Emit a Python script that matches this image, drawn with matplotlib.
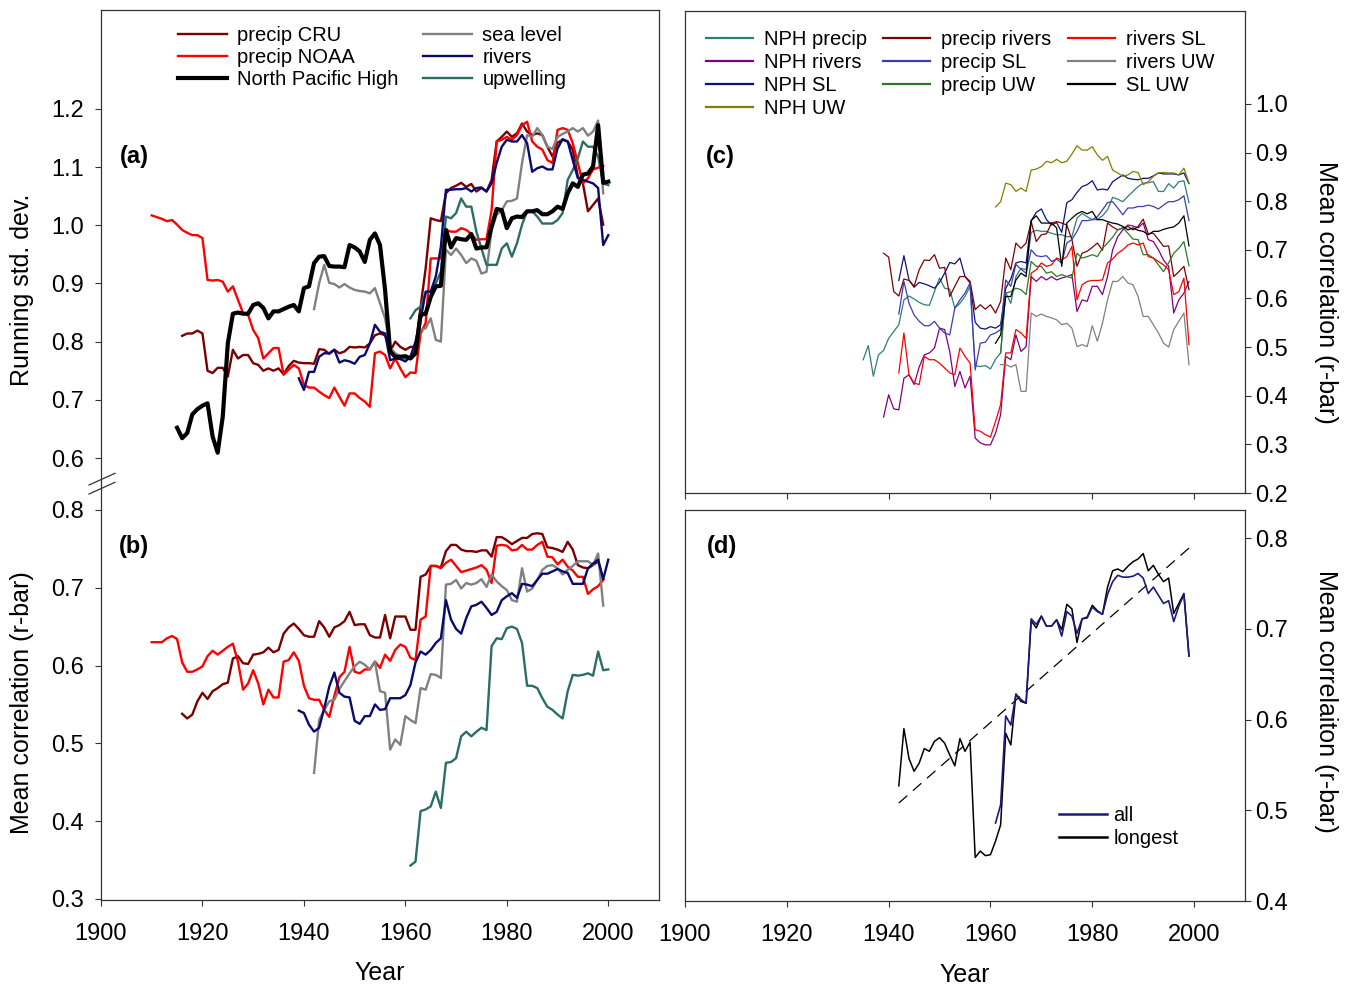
import numpy as np
import matplotlib
matplotlib.use("Agg")
import matplotlib.pyplot as plt
from matplotlib.lines import Line2D

plt.rcParams['font.family'] = ['Liberation Sans', 'DejaVu Sans']

# ---------------- data ----------------
# panel (a): running standard deviation
a_npH_start = 1915
a_nph = [0.652, 0.634, 0.643, 0.675, 0.684, 0.690, 0.694, 0.637, 0.609, 0.671,
         0.797, 0.848, 0.850, 0.848, 0.848, 0.863, 0.866, 0.858, 0.840, 0.852,
         0.852, 0.856, 0.860, 0.863, 0.852, 0.892, 0.895, 0.935, 0.946, 0.947,
         0.930, 0.929, 0.929, 0.928, 0.966, 0.962, 0.955, 0.937, 0.975, 0.986,
         0.966, 0.889, 0.783, 0.774, 0.774, 0.775, 0.771, 0.780, 0.846, 0.848,
         0.877, 0.895, 0.896, 0.992, 0.962, 0.978, 0.976, 0.975, 0.985, 0.960,
         0.962, 0.962, 0.998, 1.028, 1.026, 0.995, 1.012, 1.015, 1.014, 1.024,
         1.024, 1.026, 1.019, 1.019, 1.024, 1.032, 1.028, 1.055, 1.072, 1.066,
         1.087, 1.089, 1.101, 1.172, 1.073, 1.075]
a_noaa_start = 1910
a_noaa = [1.017, 1.014, 1.011, 1.007, 1.009, 1.001, 0.992, 0.987, 0.983, 0.983,
          0.978, 0.906, 0.905, 0.906, 0.903, 0.886, 0.895, 0.872, 0.849, 0.846,
          0.820, 0.806, 0.771, 0.780, 0.789, 0.789, 0.743, 0.752, 0.760, 0.754,
          0.726, 0.721, 0.721, 0.714, 0.708, 0.703, 0.721, 0.705, 0.690, 0.711,
          0.711, 0.703, 0.697, 0.688, 0.780, 0.783, 0.777, 0.754, 0.771, 0.754,
          0.739, 0.747, 0.746, 0.814, 0.832, 0.943, 0.943, 0.943, 0.992, 0.989,
          0.989, 0.995, 0.992, 0.985, 0.975, 0.976, 0.976, 1.026, 1.144, 1.147,
          1.152, 1.147, 1.155, 1.172, 1.178, 1.144, 1.135, 1.130, 1.112, 1.107,
          1.164, 1.167, 1.164, 1.141, 1.107, 1.072, 1.081, 1.096, 1.099, 1.102]
a_cru_start = 1916
a_cru = [0.810, 0.814, 0.814, 0.819, 0.814, 0.750, 0.746, 0.755, 0.755, 0.740,
         0.786, 0.771, 0.777, 0.777, 0.763, 0.760, 0.750, 0.754, 0.750, 0.754,
         0.744, 0.758, 0.767, 0.764, 0.763, 0.763, 0.762, 0.787, 0.786, 0.779,
         0.786, 0.780, 0.783, 0.791, 0.790, 0.791, 0.790, 0.797, 0.811, 0.814,
         0.811, 0.783, 0.800, 0.791, 0.786, 0.791, 0.791, 0.860, 0.926, 1.012,
         1.009, 1.007, 1.055, 1.064, 1.068, 1.073, 1.066, 1.071, 1.058, 1.064,
         1.058, 1.078, 1.144, 1.152, 1.161, 1.152, 1.158, 1.175, 1.161, 1.155,
         1.158, 1.155, 1.135, 1.118, 1.142, 1.147, 1.144, 1.130, 1.084, 1.072,
         1.024, 1.035, 1.046, 1.001]
a_sl_start = 1942
a_sl = [0.856, 0.900, 0.932, 0.901, 0.899, 0.893, 0.899, 0.893, 0.889, 0.887,
        0.886, 0.883, 0.892, 0.866, 0.840, 0.790, 0.780, 0.775, 0.770, 0.775,
        0.790, 0.820, 0.823, 0.840, 0.803, 0.800, 0.958, 0.949, 0.960, 0.949,
        0.935, 0.943, 0.939, 0.917, 0.920, 0.992, 1.018, 1.026, 1.041, 1.042,
        1.046, 1.107, 1.155, 1.152, 1.167, 1.155, 1.135, 1.131, 1.152, 1.157,
        1.161, 1.167, 1.161, 1.167, 1.154, 1.161, 1.180, 1.055]
a_riv_start = 1939
a_riv = [0.737, 0.717, 0.748, 0.748, 0.774, 0.780, 0.780, 0.786, 0.764, 0.768,
         0.766, 0.762, 0.774, 0.777, 0.797, 0.829, 0.817, 0.814, 0.768, 0.771,
         0.770, 0.766, 0.774, 0.800, 0.837, 0.886, 0.886, 0.912, 0.963, 1.061,
         1.061, 1.062, 1.062, 1.064, 1.058, 1.064, 1.065, 1.058, 1.072, 1.107,
         1.135, 1.147, 1.144, 1.144, 1.155, 1.141, 1.092, 1.098, 1.101, 1.096,
         1.096, 1.132, 1.148, 1.144, 1.112, 1.081, 1.078, 1.075, 1.072, 1.064,
         0.966, 0.983]
a_upw_start = 1961
a_upw = [0.840, 0.854, 0.860, 0.883, 0.886, 0.900, 0.920, 1.015, 1.012, 1.021,
         1.046, 1.032, 1.032, 0.989, 0.960, 0.932, 0.932, 0.932, 0.960, 0.969,
         0.946, 0.969, 1.001, 1.024, 1.024, 1.015, 1.003, 1.003, 1.003, 1.009,
         1.021, 1.078, 1.095, 1.115, 1.144, 1.135, 1.135, 1.118, 1.072, 1.069]

# panel (b): mean correlation
b_cru_start = 1916
b_cru = [0.538, 0.532, 0.537, 0.554, 0.565, 0.557, 0.567, 0.571, 0.576, 0.578,
         0.609, 0.612, 0.603, 0.602, 0.614, 0.615, 0.617, 0.623, 0.617, 0.620,
         0.641, 0.649, 0.654, 0.647, 0.639, 0.637, 0.637, 0.657, 0.649, 0.637,
         0.649, 0.652, 0.657, 0.669, 0.652, 0.653, 0.653, 0.639, 0.636, 0.636,
         0.665, 0.635, 0.663, 0.663, 0.663, 0.646, 0.646, 0.714, 0.717, 0.728,
         0.728, 0.726, 0.747, 0.755, 0.755, 0.749, 0.747, 0.747, 0.746, 0.748,
         0.748, 0.740, 0.765, 0.765, 0.761, 0.756, 0.760, 0.764, 0.764, 0.769,
         0.770, 0.769, 0.752, 0.751, 0.749, 0.746, 0.759, 0.749, 0.729, 0.726,
         0.725, 0.729, 0.734, 0.711]
b_noaa_start = 1910
b_noaa = [0.630, 0.630, 0.630, 0.635, 0.638, 0.634, 0.604, 0.592, 0.592, 0.595,
          0.599, 0.612, 0.619, 0.614, 0.619, 0.624, 0.628, 0.605, 0.569, 0.577,
          0.594, 0.577, 0.550, 0.569, 0.559, 0.559, 0.605, 0.607, 0.617, 0.606,
          0.574, 0.558, 0.556, 0.556, 0.543, 0.534, 0.561, 0.585, 0.592, 0.624,
          0.592, 0.590, 0.595, 0.595, 0.605, 0.597, 0.614, 0.606, 0.620, 0.627,
          0.624, 0.610, 0.607, 0.659, 0.663, 0.728, 0.728, 0.725, 0.732, 0.736,
          0.728, 0.720, 0.722, 0.724, 0.726, 0.729, 0.723, 0.706, 0.754, 0.755,
          0.754, 0.748, 0.749, 0.755, 0.749, 0.749, 0.755, 0.759, 0.740, 0.739,
          0.730, 0.736, 0.727, 0.722, 0.714, 0.714, 0.692, 0.698, 0.702, 0.710]
b_riv_start = 1939
b_riv = [0.542, 0.539, 0.524, 0.515, 0.520, 0.545, 0.573, 0.591, 0.565, 0.560,
         0.559, 0.529, 0.525, 0.535, 0.535, 0.550, 0.543, 0.544, 0.558, 0.558,
         0.558, 0.562, 0.575, 0.604, 0.618, 0.614, 0.620, 0.629, 0.635, 0.684,
         0.659, 0.647, 0.641, 0.661, 0.676, 0.678, 0.682, 0.674, 0.665, 0.669,
         0.684, 0.689, 0.693, 0.687, 0.705, 0.704, 0.702, 0.710, 0.718, 0.718,
         0.721, 0.724, 0.721, 0.719, 0.705, 0.705, 0.705, 0.725, 0.731, 0.736,
         0.711, 0.736]
b_sl_start = 1942
b_sl = [0.462, 0.530, 0.543, 0.554, 0.556, 0.570, 0.580, 0.590, 0.599, 0.605,
        0.601, 0.595, 0.605, 0.567, 0.565, 0.492, 0.505, 0.498, 0.535, 0.530,
        0.526, 0.571, 0.569, 0.589, 0.588, 0.584, 0.704, 0.705, 0.710, 0.699,
        0.706, 0.704, 0.706, 0.711, 0.701, 0.717, 0.708, 0.702, 0.697, 0.684,
        0.682, 0.725, 0.695, 0.699, 0.710, 0.723, 0.728, 0.729, 0.725, 0.717,
        0.723, 0.728, 0.734, 0.734, 0.734, 0.729, 0.744, 0.677]
b_upw_start = 1961
b_upw = [0.343, 0.348, 0.413, 0.415, 0.419, 0.438, 0.417, 0.475, 0.476, 0.481,
         0.509, 0.515, 0.509, 0.515, 0.520, 0.517, 0.625, 0.635, 0.634, 0.648,
         0.650, 0.647, 0.629, 0.574, 0.574, 0.571, 0.558, 0.547, 0.543, 0.537,
         0.532, 0.567, 0.588, 0.587, 0.588, 0.590, 0.587, 0.618, 0.594, 0.595]

# panel (c): pairwise mean correlation
c_nph_precip_start = 1935
c_nph_precip = [0.474, 0.503, 0.440, 0.484, 0.493, 0.518, 0.532, 0.546, 0.597, 0.605,
                0.599, 0.592, 0.587, 0.586, 0.614, 0.642, 0.621, 0.619, 0.580, 0.590,
                0.604, 0.625, 0.462, 0.460, 0.462, 0.455, 0.475, 0.488, 0.612, 0.590,
                0.645, 0.662, 0.659, 0.736, 0.740, 0.738, 0.738, 0.734, 0.731, 0.731,
                0.727, 0.727, 0.765, 0.775, 0.768, 0.762, 0.762, 0.770, 0.782, 0.808,
                0.804, 0.799, 0.810, 0.820, 0.830, 0.837, 0.838, 0.840, 0.820, 0.820,
                0.836, 0.827, 0.840, 0.842, 0.797]
c_nph_rivers_start = 1939
c_nph_rivers = [0.356, 0.402, 0.373, 0.371, 0.436, 0.443, 0.423, 0.459, 0.484, 0.488,
                0.498, 0.539, 0.536, 0.491, 0.419, 0.450, 0.416, 0.440, 0.313, 0.303,
                0.299, 0.299, 0.323, 0.361, 0.481, 0.474, 0.525, 0.491, 0.501, 0.645,
                0.635, 0.645, 0.638, 0.645, 0.638, 0.642, 0.645, 0.649, 0.573, 0.597,
                0.594, 0.625, 0.625, 0.608, 0.645, 0.700, 0.727, 0.741, 0.751, 0.749,
                0.745, 0.755, 0.721, 0.717, 0.700, 0.679, 0.666, 0.570, 0.597, 0.611,
                0.635]
c_nph_sl_start = 1942
c_nph_sl = [0.637, 0.688, 0.638, 0.623, 0.633, 0.630, 0.626, 0.621, 0.633, 0.652,
            0.674, 0.671, 0.683, 0.645, 0.632, 0.551, 0.539, 0.537, 0.542, 0.539,
            0.546, 0.621, 0.640, 0.673, 0.676, 0.673, 0.760, 0.777, 0.784, 0.762,
            0.751, 0.756, 0.736, 0.797, 0.803, 0.818, 0.830, 0.834, 0.842, 0.823,
            0.825, 0.823, 0.840, 0.847, 0.854, 0.847, 0.845, 0.844, 0.847, 0.847,
            0.852, 0.858, 0.856, 0.856, 0.856, 0.854, 0.858, 0.836]
c_nph_uw_start = 1961
c_nph_uw = [0.788, 0.799, 0.837, 0.834, 0.820, 0.827, 0.820, 0.864, 0.866, 0.871,
            0.882, 0.879, 0.886, 0.879, 0.882, 0.897, 0.914, 0.905, 0.905, 0.912,
            0.895, 0.884, 0.892, 0.864, 0.858, 0.851, 0.854, 0.861, 0.859, 0.834,
            0.840, 0.851, 0.858, 0.859, 0.858, 0.858, 0.854, 0.868, 0.837]
c_precip_rivers_start = 1939
c_precip_rivers = [0.693, 0.685, 0.614, 0.605, 0.640, 0.637, 0.625, 0.659, 0.679, 0.678,
                   0.690, 0.662, 0.664, 0.604, 0.625, 0.645, 0.645, 0.635, 0.577, 0.587,
                   0.578, 0.587, 0.570, 0.594, 0.683, 0.659, 0.714, 0.703, 0.714, 0.758,
                   0.717, 0.731, 0.733, 0.755, 0.758, 0.755, 0.751, 0.721, 0.666, 0.693,
                   0.697, 0.705, 0.714, 0.699, 0.755, 0.747, 0.741, 0.745, 0.748, 0.741,
                   0.748, 0.763, 0.733, 0.734, 0.721, 0.707, 0.708, 0.645, 0.655, 0.666,
                   0.618]
c_precip_sl_start = 1942
c_precip_sl = [0.568, 0.635, 0.590, 0.566, 0.553, 0.544, 0.544, 0.553, 0.539, 0.529,
               0.525, 0.580, 0.597, 0.611, 0.632, 0.453, 0.508, 0.510, 0.525, 0.529,
               0.536, 0.638, 0.625, 0.670, 0.660, 0.652, 0.700, 0.688, 0.686, 0.688,
               0.676, 0.681, 0.673, 0.714, 0.721, 0.738, 0.760, 0.760, 0.762, 0.768,
               0.782, 0.797, 0.799, 0.786, 0.772, 0.786, 0.786, 0.789, 0.789, 0.792,
               0.789, 0.784, 0.792, 0.799, 0.799, 0.803, 0.811, 0.760]
c_precip_uw_start = 1962
c_precip_uw = [0.488, 0.611, 0.614, 0.621, 0.618, 0.608, 0.676, 0.666, 0.666, 0.652,
               0.655, 0.645, 0.649, 0.645, 0.642, 0.693, 0.683, 0.686, 0.690, 0.686,
               0.703, 0.714, 0.726, 0.741, 0.745, 0.734, 0.722, 0.721, 0.690, 0.690,
               0.683, 0.669, 0.655, 0.673, 0.693, 0.703, 0.717, 0.667]
c_rivers_sl_start = 1942
c_rivers_sl = [0.447, 0.529, 0.443, 0.426, 0.423, 0.481, 0.474, 0.474, 0.467, 0.457,
               0.447, 0.443, 0.498, 0.481, 0.467, 0.330, 0.327, 0.320, 0.315, 0.347,
               0.382, 0.488, 0.488, 0.536, 0.529, 0.518, 0.652, 0.659, 0.673, 0.666,
               0.669, 0.683, 0.679, 0.686, 0.707, 0.597, 0.628, 0.635, 0.637, 0.637,
               0.638, 0.673, 0.681, 0.693, 0.700, 0.710, 0.714, 0.710, 0.714, 0.686,
               0.683, 0.676, 0.669, 0.659, 0.608, 0.614, 0.642, 0.505]
c_rivers_uw_start = 1962
c_rivers_uw = [0.464, 0.464, 0.459, 0.464, 0.409, 0.409, 0.570, 0.563, 0.568, 0.563,
               0.560, 0.556, 0.546, 0.549, 0.539, 0.501, 0.505, 0.501, 0.544, 0.512,
               0.549, 0.597, 0.635, 0.635, 0.645, 0.632, 0.628, 0.604, 0.563, 0.563,
               0.546, 0.529, 0.508, 0.500, 0.536, 0.553, 0.570, 0.464]
c_sl_uw_start = 1961
c_sl_uw = [0.508, 0.525, 0.604, 0.604, 0.638, 0.652, 0.645, 0.760, 0.770, 0.755,
           0.755, 0.755, 0.745, 0.666, 0.755, 0.765, 0.774, 0.779, 0.774, 0.779,
           0.762, 0.762, 0.758, 0.755, 0.753, 0.748, 0.741, 0.745, 0.740, 0.738,
           0.731, 0.738, 0.738, 0.742, 0.745, 0.747, 0.755, 0.770, 0.708]

# panel (d)
d_longest_start = 1942
d_longest = [0.527, 0.590, 0.557, 0.543, 0.552, 0.568, 0.565, 0.576, 0.580, 0.574,
             0.561, 0.549, 0.579, 0.565, 0.575, 0.448, 0.455, 0.450, 0.451, 0.466,
             0.484, 0.585, 0.572, 0.628, 0.620, 0.618, 0.709, 0.701, 0.714, 0.703,
             0.703, 0.710, 0.699, 0.727, 0.722, 0.685, 0.711, 0.713, 0.726, 0.720,
             0.716, 0.746, 0.764, 0.766, 0.763, 0.769, 0.774, 0.777, 0.783, 0.764,
             0.770, 0.760, 0.752, 0.756, 0.717, 0.728, 0.739, 0.670]
d_all_start = 1961
d_all = [0.486, 0.506, 0.604, 0.594, 0.628, 0.622, 0.618, 0.711, 0.705, 0.714,
         0.703, 0.703, 0.710, 0.692, 0.719, 0.714, 0.695, 0.711, 0.712, 0.724,
         0.719, 0.716, 0.738, 0.752, 0.759, 0.757, 0.757, 0.758, 0.761, 0.756,
         0.739, 0.746, 0.737, 0.728, 0.731, 0.708, 0.725, 0.738, 0.670]
d_trend_years = [1942.0, 1999.4]
d_trend_vals = [0.508, 0.791]

x_ticks = [1900, 1920, 1940, 1960, 1980, 2000]
a_yticks = [0.6, 0.7, 0.8, 0.9, 1.0, 1.1, 1.2]
b_yticks = [0.3, 0.4, 0.5, 0.6, 0.7, 0.8]
c_yticks = [0.2, 0.3, 0.4, 0.5, 0.6, 0.7, 0.8, 0.9, 1.0]
d_yticks = [0.4, 0.5, 0.6, 0.7, 0.8]


def yrs(start, vals):
    return start + np.arange(len(vals))


# ---------------- layout ----------------
W, H = 1349, 986


def fx(x):
    return x / W


def fy(y):
    return 1 - y / H


def box(l, t, r, b):
    return [l / W, 1 - b / H, (r - l) / W, (b - t) / H]


fig = plt.figure(figsize=(W / 100, H / 100), dpi=100)
axA = fig.add_axes(box(101, 10, 659, 485))
axB = fig.add_axes(box(101, 485, 659, 900))
axC = fig.add_axes(box(685, 11, 1245, 493))
axD = fig.add_axes(box(685, 510, 1245, 901))

SPC = '#333333'
TS = 17


def base(ax):
    for s in ax.spines.values():
        s.set_linewidth(0.9)
        s.set_color(SPC)
    ax.set_xlim(1900, 2010)
    ax.set_xticks(x_ticks)
    ax.tick_params(direction='out', length=4.5, width=0.8, color=SPC,
                   labelsize=TS)
    ax.tick_params(axis='x', pad=12)


for ax in (axA, axB, axC, axD):
    base(ax)

# (a)
axA.set_ylim(0.5536, 1.370)
axA.set_yticks(a_yticks)
axA.set_yticklabels([f"{v:.1f}" for v in a_yticks])
axA.spines['bottom'].set_visible(False)
axA.tick_params(axis='x', bottom=False, labelbottom=False)
axA.tick_params(axis='y', pad=8)

# (b)
axB.set_ylim(0.2987, 0.832)
axB.set_yticks(b_yticks)
axB.set_yticklabels([f"{v:.1f}" for v in b_yticks])
axB.spines['top'].set_visible(False)
axB.tick_params(axis='y', pad=8)
axB.set_xticklabels([str(v) for v in x_ticks])

# (c)
axC.set_ylim(0.2, 1.191)
axC.set_yticks(c_yticks)
axC.set_yticklabels([f"{v:.1f}" for v in c_yticks])
axC.yaxis.tick_right()
axC.tick_params(axis='y', pad=3)
axC.tick_params(axis='x', labelbottom=False)

# (d)
axD.set_ylim(0.4, 0.831)
axD.set_yticks(d_yticks)
axD.set_yticklabels([f"{v:.1f}" for v in d_yticks])
axD.yaxis.tick_right()
axD.tick_params(axis='y', pad=3)
axD.set_xticklabels([str(v) for v in x_ticks])

# colours
C_CRU = '#7a0000'
C_NOAA = '#ff0000'
C_SL = '#808080'
C_RIV = '#0a0a6e'
C_UPW = '#2a6e64'

# panel a lines
LW = 1.7
axA.plot(yrs(a_cru_start, a_cru), a_cru, color=C_CRU, lw=LW)
axA.plot(yrs(a_noaa_start, a_noaa), a_noaa, color=C_NOAA, lw=LW)
axA.plot(yrs(a_sl_start, a_sl), a_sl, color=C_SL, lw=LW)
axA.plot(yrs(a_upw_start, a_upw), a_upw, color=C_UPW, lw=LW)
axA.plot(yrs(a_riv_start, a_riv), a_riv, color=C_RIV, lw=LW)
axA.plot(yrs(a_npH_start, a_nph), a_nph, color='black', lw=3.0)

# panel b lines
axB.plot(yrs(b_cru_start, b_cru), b_cru, color=C_CRU, lw=LW)
axB.plot(yrs(b_noaa_start, b_noaa), b_noaa, color=C_NOAA, lw=LW)
axB.plot(yrs(b_sl_start, b_sl), b_sl, color=C_SL, lw=LW)
axB.plot(yrs(b_riv_start, b_riv), b_riv, color=C_RIV, lw=LW)
axB.plot(yrs(b_upw_start, b_upw), b_upw, color=C_UPW, lw=LW)

# legend (a)
leg_a_labels = ['precip CRU', 'precip NOAA', 'North Pacific High',
                'sea level', 'rivers', 'upwelling']
leg_a_handles = [Line2D([], [], color=C_CRU, lw=1.7),
                 Line2D([], [], color=C_NOAA, lw=1.7),
                 Line2D([], [], color='black', lw=3.0),
                 Line2D([], [], color=C_SL, lw=1.7),
                 Line2D([], [], color=C_RIV, lw=1.7),
                 Line2D([], [], color=C_UPW, lw=1.7)]
axA.legend(leg_a_handles, leg_a_labels, ncol=2, loc='upper left',
           bbox_to_anchor=(fx(178), fy(26)), bbox_transform=fig.transFigure,
           frameon=False, fontsize=14.5, handlelength=2.45, handletextpad=0.5,
           columnspacing=1.2, labelspacing=0.15, borderpad=0, borderaxespad=0)

# panel c lines
c_series = [
    ('NPH precip', c_nph_precip_start, c_nph_precip, '#2f7f73'),
    ('NPH rivers', c_nph_rivers_start, c_nph_rivers, '#800080'),
    ('NPH SL', c_nph_sl_start, c_nph_sl, '#10107a'),
    ('NPH UW', c_nph_uw_start, c_nph_uw, '#808000'),
    ('precip rivers', c_precip_rivers_start, c_precip_rivers, '#800000'),
    ('precip SL', c_precip_sl_start, c_precip_sl, '#3c3cb4'),
    ('precip UW', c_precip_uw_start, c_precip_uw, '#2a7a2a'),
    ('rivers SL', c_rivers_sl_start, c_rivers_sl, '#ff0000'),
    ('rivers UW', c_rivers_uw_start, c_rivers_uw, '#808080'),
    ('SL UW', c_sl_uw_start, c_sl_uw, '#000000'),
]
c_handles = []
for name, st, vals, col in c_series:
    axC.plot(yrs(st, vals), vals, color=col, lw=0.9)
    c_handles.append(Line2D([], [], color=col, lw=1.6))
axC.legend(c_handles, [s[0] for s in c_series], ncol=3, loc='upper left',
           bbox_to_anchor=(fx(706), fy(30)), bbox_transform=fig.transFigure,
           frameon=False, fontsize=14.5, handlelength=2.33, handletextpad=0.55,
           columnspacing=0.8, labelspacing=0.2, borderpad=0, borderaxespad=0)

# panel d
axD.plot(d_trend_years, d_trend_vals, color='black', lw=0.9,
         dashes=(9, 6))
axD.plot(yrs(d_longest_start, d_longest), d_longest, color='black', lw=1.1)
axD.plot(yrs(d_all_start, d_all), d_all, color='#1a1a80', lw=1.2)
axD.legend([Line2D([], [], color='#1a1a80', lw=1.8),
            Line2D([], [], color='black', lw=1.8)], ['all', 'longest'],
           loc='upper left', bbox_to_anchor=(fx(1059), fy(806)),
           bbox_transform=fig.transFigure, frameon=False, fontsize=14.5,
           handlelength=2.4, handletextpad=0.3, labelspacing=0.2,
           borderpad=0, borderaxespad=0)

# break marks on left axis
for y0 in (485, 494):
    fig.add_artist(Line2D([fx(89), fx(115)], [fy(y0), fy(y0 - 11.7)],
                          transform=fig.transFigure, color=SPC, lw=0.9))

# panel letters
for txt, (x, y) in [('(a)', (134, 157)), ('(b)', (134, 547)),
                    ('(c)', (720, 157)), ('(d)', (722, 546))]:
    fig.text(fx(x), fy(y), txt, fontsize=17, fontweight='bold',
             ha='center', va='center')

# axis labels
fig.text(fx(22), fy(290), 'Running std. dev.', rotation=90, fontsize=18,
         ha='center', va='center')
fig.text(fx(22), fy(703), 'Mean correlation (r-bar)', rotation=90,
         fontsize=18, ha='center', va='center')
fig.text(fx(1326), fy(292), 'Mean correlation (r-bar)', rotation=270,
         fontsize=18, ha='center', va='center')
fig.text(fx(1326), fy(701), 'Mean correlaiton (r-bar)', rotation=270,
         fontsize=18, ha='center', va='center')
fig.text(fx(380), fy(973), 'Year', fontsize=18, ha='center', va='center')
fig.text(fx(965), fy(975), 'Year', fontsize=18, ha='center', va='center')

fig.savefig('out.png', dpi=100)
